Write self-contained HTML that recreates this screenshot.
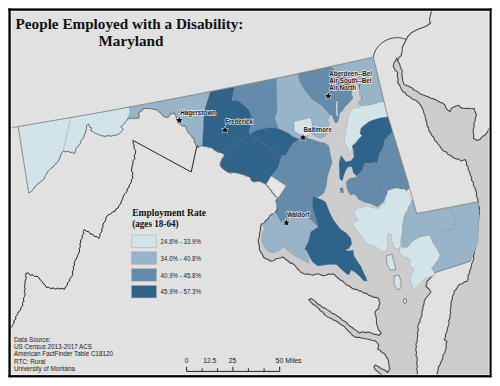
<!DOCTYPE html>
<html><head><meta charset="utf-8"><style>
html,body{margin:0;padding:0;background:#fff;}
svg{display:block;}
</style></head><body>
<svg width="500" height="386" viewBox="0 0 500 386">
<defs><clipPath id="fr"><rect x="10.5" y="10.5" width="479.3" height="364.5"/></clipPath></defs>
<rect width="500" height="386" fill="#fff"/>
<rect x="9" y="9" width="482" height="368" fill="#e1e1e1"/>
<g clip-path="url(#fr)">
<path d="M397.7,60.9 L399.5,63.6 L400.4,67.2 L402.2,70.8 L401.9,74.0 L402.2,77.2 L402.8,80.9 L404.0,84.4 L408.6,86.3 L412.2,88.1 L414.0,90.0 L416.5,90.9 L418.5,92.6 L421.1,94.3 L424.0,95.3 L428.5,97.1 L431.1,98.3 L433.9,98.9 L437.6,100.8 L439.9,102.3 L442.5,103.1 L444.7,104.8 L445.7,107.2 L447.0,109.4 L450.1,111.8 L451.7,107.9 L455.5,106.3 L458.6,105.2 L461.0,107.9 L464.5,108.5 L468.0,108.3 L471.1,108.7 L474.2,108.6 L475.1,111.8 L476.5,114.9 L475.4,117.9 L475.0,121.1 L473.9,123.6 L474.2,126.3 L473.4,128.8 L473.1,131.9 L473.9,135.1 L473.4,138.2 L477.3,140.5 L480.2,139.2 L482.3,136.5 L485.1,135.1 L487.4,132.1 L489.0,128.8 L491.4,126.9 L492.8,124.1 L495.0,122.0 L494.5,124.5 L495.3,127.0 L494.7,129.5 L495.2,132.0 L494.7,134.5 L495.5,137.0 L494.7,139.5 L495.4,142.0 L494.5,144.5 L495.3,147.0 L494.6,149.6 L495.2,152.1 L494.8,154.6 L495.3,157.1 L494.5,159.6 L495.4,162.1 L494.7,164.6 L495.4,167.1 L494.6,169.6 L495.3,172.1 L494.5,174.6 L495.5,177.1 L494.7,179.6 L495.4,182.1 L494.6,184.6 L495.6,187.1 L494.5,189.6 L495.3,192.1 L494.4,194.6 L495.2,197.1 L494.6,199.7 L495.5,202.2 L494.7,204.7 L495.4,207.2 L494.8,209.7 L495.5,212.2 L494.5,214.7 L495.4,217.2 L494.4,219.7 L495.3,222.2 L494.5,224.7 L495.4,227.2 L494.6,229.7 L495.4,232.2 L494.5,234.7 L495.6,237.2 L494.6,239.7 L495.5,242.2 L494.8,244.7 L495.5,247.2 L494.5,249.7 L495.6,252.3 L494.5,254.8 L495.3,257.3 L494.6,259.8 L495.5,262.3 L494.8,264.8 L495.4,267.3 L494.7,269.8 L495.2,272.3 L494.8,274.8 L495.5,277.3 L494.7,279.8 L495.3,282.3 L494.6,284.8 L495.5,287.3 L494.8,289.8 L495.4,292.3 L494.6,294.8 L495.6,297.3 L494.5,299.8 L495.5,302.3 L494.7,304.9 L495.4,307.4 L494.7,309.9 L495.6,312.4 L494.4,314.9 L495.3,317.4 L494.7,319.9 L495.3,322.4 L494.7,324.9 L495.4,327.4 L494.6,329.9 L495.3,332.4 L494.8,334.9 L495.4,337.4 L494.7,339.9 L495.4,342.4 L494.4,344.9 L495.5,347.4 L494.6,349.9 L495.4,352.4 L494.5,355.0 L495.2,357.5 L494.4,360.0 L495.5,362.5 L494.5,365.0 L495.5,367.5 L494.6,370.0 L495.4,372.5 L494.8,375.0 L495.5,377.5 L495.0,380.0 L492.5,379.8 L490.0,380.2 L487.4,379.7 L484.9,380.3 L482.4,379.7 L479.9,380.2 L477.3,379.8 L474.8,380.3 L472.3,379.8 L469.8,380.3 L467.3,379.8 L464.7,380.5 L462.2,379.6 L459.7,380.3 L457.2,379.7 L454.7,380.3 L452.1,379.7 L449.6,380.2 L447.1,379.5 L444.6,380.6 L442.0,379.6 L439.5,380.4 L437.0,380.0 L437.2,377.0 L437.0,374.0 L438.0,370.5 L438.5,366.9 L440.2,364.2 L441.3,361.2 L442.7,358.5 L443.0,355.3 L444.8,352.7 L445.6,349.8 L446.3,347.0 L446.0,344.0 L447.0,341.2 L444.2,339.8 L445.4,337.1 L445.6,334.0 L447.1,331.4 L447.4,328.4 L448.4,325.6 L449.2,323.2 L448.6,320.5 L450.1,318.2 L449.9,315.6 L450.7,312.8 L450.2,309.9 L451.1,307.1 L450.8,304.1 L451.3,301.3 L452.5,299.0 L452.3,296.2 L453.9,294.0 L454.1,291.4 L456.3,289.2 L457.7,286.4 L459.8,284.2 L462.4,283.8 L464.4,281.8 L467.0,281.4 L468.2,278.7 L467.9,275.6 L469.6,273.0 L469.8,270.0 L471.3,267.2 L471.7,263.9 L473.0,261.0 L473.8,258.6 L473.4,255.9 L474.3,253.5 L474.3,251.0 L475.2,248.5 L474.9,246.0 L476.1,243.6 L476.0,241.0 L476.9,238.5 L476.2,235.9 L477.4,233.5 L476.5,230.8 L478.0,228.4 L477.4,225.8 L478.3,223.4 L478.0,220.8 L478.8,218.3 L478.6,215.7 L479.6,213.3 L479.4,210.7 L479.5,207.6 L478.0,204.8 L478.1,201.7 L477.8,198.7 L476.3,196.0 L476.7,192.8 L475.5,190.0 L474.9,187.4 L473.3,185.2 L473.4,182.4 L471.5,180.2 L471.6,177.4 L470.3,175.1 L469.8,172.4 L468.3,170.0 L468.2,167.2 L466.5,164.9 L466.5,162.0 L465.1,159.6 L461.2,160.9 L458.4,159.1 L455.1,158.6 L452.2,157.0 L450.3,155.2 L447.7,154.3 L446.3,151.9 L443.7,151.0 L441.8,149.2 L440.1,146.4 L437.9,144.0 L436.6,141.7 L434.4,140.0 L433.8,137.2 L431.7,135.5 L430.8,132.9 L428.9,131.0 L428.7,128.1 L426.9,125.6 L426.9,122.7 L425.8,120.0 L425.3,116.6 L424.0,113.4 L423.3,110.6 L422.2,108.0 L420.5,105.2 L418.5,102.6 L415.6,100.2 L412.2,98.9 L409.8,96.7 L406.8,95.3 L405.3,92.9 L402.7,91.5 L401.3,89.0 L399.8,85.6 L397.7,82.6 L398.2,79.3 L397.2,76.0 L397.7,72.7 L395.0,69.9 L393.2,66.3 L394.1,62.7 L395.7,60.6 L396.8,58.2Z" fill="#cdcdcd" stroke="#484848" stroke-width="1.1" stroke-linejoin="round"/>
<path d="M397.7,60.9 L398.6,58.2 L401.3,55.4 L402.2,50.0 L402.5,47.0 L405.6,40.7 L407.7,36.6 L411.8,32.4 L418.0,29.3 L426.3,26.2 L430.5,23.0 L429.4,19.4 L433.0,5.0" fill="none" stroke="#484848" stroke-width="1.1" stroke-linejoin="round"/>
<path d="M373.4,57.2 C374.5,46 386,37.5 397.3,37.6 C401,37.7 404,38.5 406.6,39.7" fill="none" stroke="#484848" stroke-width="1.0"/>
<path d="M358.0,80.0 L355.9,81.4 L354.5,83.6 L352.0,84.6 L350.8,87.0 L348.4,88.0 L347.1,90.3 L344.8,91.5 L343.3,93.6 L340.9,94.7 L339.7,97.1 L337.3,98.2 L335.8,100.2 L333.6,101.5 L332.2,103.7 L330.0,105.0 L328.0,106.8 L326.8,109.3 L324.5,110.9 L323.8,113.7 L321.3,115.1 L320.3,117.8 L318.1,119.4 L316.8,121.8 L314.7,123.5 L313.5,126.0 L311.5,127.7 L310.0,130.0 L308.5,132.4 L307.7,135.1 L305.9,137.3 L305.3,140.2 L303.3,142.3 L302.9,145.2 L300.8,147.3 L300.0,150.0 L299.9,152.5 L301.1,154.9 L300.6,157.5 L301.6,160.0 L301.0,162.6 L302.5,164.9 L301.7,167.6 L303.0,169.9 L302.5,172.5 L303.4,175.0 L303.1,177.5 L304.0,180.0 L303.6,182.6 L304.7,185.0 L304.2,187.6 L305.0,190.0 L304.2,192.6 L304.7,195.4 L303.2,197.9 L303.5,200.7 L302.6,203.3 L303.1,206.1 L301.7,208.6 L302.3,211.4 L300.9,213.9 L301.1,216.7 L300.0,219.3 L300.0,222.0 L298.1,220.2 L295.4,219.5 L293.5,217.6 L291.0,216.7 L289.3,214.5 L286.5,214.0 L284.7,212.0 L282.2,211.1 L280.3,209.2 L278.0,208.0 L276.1,211.0 L274.5,214.3 L272.0,214.0 L269.7,215.9 L268.3,218.7 L265.8,220.5 L264.2,223.1 L261.4,224.0 L260.5,227.0 L260.4,230.2 L259.4,233.3 L259.5,236.6 L258.3,239.6 L258.4,242.7 L259.4,245.8 L259.3,248.9 L260.5,251.8 L262.4,254.3 L263.5,257.2 L265.8,258.8 L268.5,259.7 L270.7,261.3 L273.7,260.8 L276.1,258.7 L279.0,258.2 L283.2,257.0 L285.4,259.2 L288.0,261.0 L290.0,262.9 L292.7,263.6 L294.8,265.2 L296.5,267.8 L298.8,270.0 L300.5,272.0 L302.8,273.2 L305.4,274.2 L308.2,274.0 L310.8,274.8 L313.5,275.1 L316.1,274.0 L318.8,274.0 L321.1,275.1 L323.6,275.6 L326.2,275.3 L328.4,274.0 L331.2,274.3 L334.0,274.0 L335.8,276.2 L338.0,278.0 L340.0,279.8 L342.4,281.0 L344.4,282.8 L346.6,284.9 L349.4,286.0 L351.7,288.0 L354.0,289.3 L356.8,289.4 L359.0,290.9 L361.6,291.4 L363.8,293.1 L366.7,293.4 L368.8,295.3 L371.4,296.1 L373.7,297.4 L376.4,297.4 L378.8,298.5 L379.1,301.1 L380.0,303.5 L378.9,305.8 L378.8,308.4 L376.6,309.9 L375.1,312.1 L375.2,314.6 L376.2,317.0 L376.4,319.5 L376.5,323.3 L377.6,326.9 L379.0,330.2 L381.3,333.0 L378.8,335.5 L376.4,334.4 L373.7,334.4 L371.4,333.0 L368.6,332.1 L365.6,332.6 L362.8,331.8 L359.1,333.0 L356.9,330.9 L354.2,329.3 L352.3,327.5 L349.9,326.2 L348.0,324.4 L345.9,321.9 L342.9,320.6 L340.6,318.3 L336.9,315.8 L334.7,314.1 L332.0,313.3 L329.7,311.2 L327.1,309.6 L324.9,307.9 L322.2,307.2 L320.4,305.2 L317.9,304.1 L316.0,302.2 L313.7,300.1 L311.1,298.5 L308.6,299.8 L311.1,302.2 L313.3,304.6 L316.2,306.2 L318.5,308.4 L320.3,310.7 L322.9,312.2 L324.6,314.6 L327.4,316.9 L330.8,318.3 L333.1,319.9 L335.7,320.7 L339.4,323.2 L341.3,325.1 L343.9,326.0 L345.6,328.1 L347.9,330.7 L350.5,333.0 L352.2,335.0 L354.2,336.7 L356.6,337.4 L359.2,337.2 L361.6,338.0 L365.3,338.8 L369.0,339.2 L371.4,340.3 L374.0,340.5 L376.4,341.7 L378.8,345.3 L377.6,349.0 L380.0,350.3 L382.2,352.5 L385.0,354.0 L386.0,356.6 L387.8,358.8 L388.7,361.4 L388.8,365.1 L389.9,368.7 L387.4,372.4 L384.7,370.0 L381.3,368.7 L378.4,366.5 L375.1,365.0 L373.9,367.5 L376.0,370.3 L378.8,372.4 L381.0,374.5 L383.7,376.0 L383.7,380.0 L386.3,380.3 L388.8,379.8 L391.4,380.2 L393.9,379.4 L396.5,380.5 L399.1,379.4 L401.6,380.2 L404.2,379.5 L406.8,380.4 L409.3,379.5 L411.9,380.3 L414.4,379.4 L417.0,380.0 L417.3,377.0 L417.1,374.0 L417.5,371.4 L416.6,368.9 L417.7,366.3 L416.6,363.8 L417.1,361.2 L417.2,358.3 L415.9,355.6 L416.6,352.6 L415.7,349.8 L416.4,347.0 L415.9,344.0 L417.3,341.3 L417.1,338.4 L417.9,335.6 L417.3,332.6 L418.5,329.9 L417.7,326.9 L418.5,324.1 L419.9,321.9 L420.0,319.2 L421.4,317.0 L422.1,314.5 L421.7,311.9 L422.9,309.6 L422.8,307.0 L424.0,304.2 L424.2,301.2 L425.6,298.5 L428.5,295.0 L431.0,292.0 L429.0,289.0 L425.7,286.0 L426.9,283.7 L427.0,281.0 L429.4,279.4 L431.0,277.0 L434.0,274.0 L433.2,271.6 L431.1,269.8 L430.6,267.2 L428.5,265.5 L428.0,262.9 L425.9,261.2 L425.3,258.6 L423.4,256.8 L422.7,254.3 L420.9,252.4 L420.0,250.0 L418.9,247.6 L416.9,245.9 L416.1,243.3 L414.0,241.6 L413.2,239.0 L411.0,237.5 L410.3,234.8 L408.4,233.0 L407.4,230.5 L405.3,228.8 L404.5,226.3 L402.6,224.4 L401.9,221.8 L400.0,220.0 L399.2,217.4 L397.3,215.5 L397.0,212.7 L395.0,210.7 L394.5,208.0 L392.7,206.0 L392.1,203.4 L390.1,201.4 L389.9,198.6 L387.7,196.7 L387.4,194.0 L385.5,192.0 L385.0,189.3 L383.3,187.2 L382.7,184.5 L380.7,182.6 L380.0,180.0 L380.0,177.4 L378.5,175.1 L379.0,172.4 L377.6,170.1 L377.6,167.4 L376.4,165.1 L376.6,162.4 L375.4,160.1 L375.5,157.4 L374.2,155.1 L374.5,152.4 L373.3,150.1 L373.6,147.4 L371.9,145.1 L372.3,142.4 L371.2,140.0 L371.1,137.5 L369.8,135.1 L370.0,132.5 L368.8,130.1 L369.2,127.4 L367.9,125.1 L368.2,122.4 L366.9,120.0 L366.9,117.4 L365.7,115.1 L365.7,112.5 L365.0,110.0Z" fill="#cdcdcd" stroke="#484848" stroke-width="1.1" stroke-linejoin="round"/>
<g stroke="#33475a" stroke-opacity="0.25" stroke-width="0.6" stroke-linejoin="round">
<path d="M18.2,126.6 L70.8,117.7 L63.2,151.2 L61.4,153.2 L60.2,156.7 L57.9,161.4 L54.4,164.9 L50.9,168.4 L47.4,171.9 L45.0,176.5 L42.7,180.0 L38.0,183.5 L34.5,187.0 L32.2,190.5 L28.7,192.9Z" fill="#d3e4e9"/>
<path d="M70.8,117.7 L129.0,107.2 L130.4,112.0 L128.0,117.6 L124.8,122.4 L124.0,124.0 L120.8,126.4 L123.2,129.6 L120.8,132.0 L116.0,135.2 L109.6,136.0 L103.2,136.0 L98.4,134.4 L93.6,132.0 L90.4,130.4 L92.0,128.0 L89.6,127.2 L88.8,124.0 L86.4,125.6 L85.6,131.2 L84.0,135.2 L82.4,139.2 L79.2,144.8 L76.0,148.0 L74.4,153.6 L68.0,151.2 L63.2,151.2Z" fill="#d3e4e9"/>
<path d="M129.0,107.2 L210.5,91.6 L206.9,103.0 L204.2,112.0 L203.3,130.0 L202.4,144.4 L201.8,145.4 L197.0,147.4 L196.1,145.3 L194.3,140.8 L191.6,135.4 L188.0,131.8 L186.2,127.3 L180.8,124.6 L177.2,121.0 L176.3,116.5 L174.5,112.9 L170.0,113.8 L168.2,117.4 L163.7,116.5 L161.0,112.9 L157.4,110.2 L150.2,108.4 L144.8,108.4 L139.4,112.0 L138.5,118.3 L128.0,118.3 L130.4,112.0Z" fill="#98b4c8"/>
<path d="M210.5,91.6 L234.4,86.9 L233.0,94.0 L232.0,101.0 L237.0,100.0 L244.0,105.0 L249.0,110.0 L252.5,118.5 L251.3,124.0 L249.0,131.0 L249.4,133.7 L224.2,154.2 L222.2,153.2 L216.4,151.2 L212.5,148.3 L206.7,146.4 L201.8,145.4 L202.4,144.4 L203.3,130.0 L204.2,112.0 L206.9,103.0Z" fill="#2f638a"/>
<path d="M234.4,86.9 L276.5,78.3 L277.0,112.3 L274.6,118.1 L277.0,124.0 L278.1,128.6 L270.0,127.5 L258.3,129.8 L251.3,133.3 L249.4,133.7 L249.0,131.0 L251.3,124.0 L252.5,118.5 L249.0,110.0 L244.0,105.0 L237.0,100.0 L232.0,101.0 L233.0,94.0Z" fill="#648ba9"/>
<path d="M249.4,133.7 L281.5,156.1 L278.0,168.0 L271.2,176.0 L266.0,184.5 L264.7,183.2 L260.2,181.2 L252.3,181.4 L250.4,177.5 L243.6,174.6 L235.8,172.6 L229.0,172.6 L224.2,169.7 L220.3,165.8 L221.2,161.0 L224.2,156.1 L224.2,154.2Z" fill="#2f638a"/>
<path d="M249.4,133.7 L251.3,133.3 L258.3,129.8 L270.0,127.5 L278.1,128.6 L284.0,131.0 L288.6,133.3 L293.3,136.8 L299.1,139.1 L292.5,143.7 L285.5,155.3 L281.5,156.1Z" fill="#2f638a"/>
<path d="M276.5,78.3 L298.5,73.6 L299.3,80.7 L304.5,89.5 L312.0,99.0 L320.2,104.2 L325.0,109.0 L328.5,112.5 L329.5,116.5 L327.7,121.0 L329.5,123.8 L328.1,128.3 L327.7,132.9 L324.9,136.5 L320.4,138.3 L315.9,136.5 L310.4,132.9 L312.5,127.6 L310.9,117.8 L293.8,121.4 L294.3,130.7 L298.5,133.9 L303.2,135.0 L303.1,136.6 L299.1,139.1 L293.3,136.8 L288.6,133.3 L284.0,131.0 L278.1,128.6 L277.0,124.0 L274.6,118.1 L277.0,112.3Z" fill="#98b4c8"/>
<path d="M293.8,121.4 L310.9,117.8 L312.5,127.6 L311.5,132.8 L309.9,134.4 L306.8,136.0 L303.2,135.0 L298.5,133.9 L294.3,130.7Z" fill="#d3e4e9"/>
<path d="M298.5,73.6 L330.5,66.8 L355.0,84.0 L353.9,85.0 L352.6,88.9 L351.3,94.1 L353.2,98.0 L350.0,101.8 L344.8,107.0 L342.2,110.9 L339.6,113.5 L339.0,118.0 L337.7,122.6 L335.0,122.5 L333.0,118.0 L331.5,114.5 L329.9,115.4 L328.5,112.5 L325.0,109.0 L320.2,104.2 L312.0,99.0 L304.5,89.5 L299.3,80.7Z" fill="#648ba9"/>
<path d="M330.5,66.8 L373.4,57.2 L384.0,101.5 L380.4,102.0 L377.2,102.8 L372.4,104.4 L366.0,105.6 L362.0,106.0 L359.6,104.8 L358.0,103.6 L360.4,99.6 L362.4,96.4 L359.6,95.6 L359.6,90.0 L359.7,85.0 L355.0,84.0Z" fill="#98b4c8"/>
<path d="M359.6,104.8 L362.0,106.0 L366.0,105.6 L372.4,104.4 L377.2,102.8 L380.4,102.0 L384.0,101.5 L386.0,110.0 L388.1,117.0 L379.7,118.0 L370.4,121.1 L364.2,125.2 L361.1,128.3 L360.0,133.5 L362.1,135.6 L359.0,138.7 L355.9,142.8 L352.8,147.0 L351.5,151.0 L349.3,155.5 L347.6,148.0 L344.0,142.0 L345.0,135.0 L346.1,129.0 L347.4,123.9 L348.0,117.4 L350.8,110.0 L354.8,107.6 L360.4,107.2Z" fill="#d3e4e9"/>
<path d="M379.7,118.0 L388.1,117.0 L392.6,131.5 L384.9,139.7 L383.3,147.8 L379.4,153.6 L377.4,162.3 L364.3,163.6 L363.0,169.4 L359.8,172.7 L356.6,175.9 L353.3,172.7 L352.0,166.8 L348.1,166.8 L345.5,170.7 L343.6,175.9 L342.3,181.1 L339.7,178.5 L339.1,163.0 L341.0,155.2 L345.5,161.7 L350.7,161.0 L354.0,157.1 L353.3,150.0 L352.2,145.8 L355.9,142.8 L359.0,138.7 L362.1,135.6 L360.0,133.5 L361.1,128.3 L364.2,125.2 L370.4,121.1Z" fill="#2f638a"/>
<path d="M346.2,182.4 L349.4,178.5 L355.9,177.2 L359.8,172.7 L363.0,169.4 L364.3,163.6 L377.4,162.3 L384.7,177.0 L379.6,186.3 L378.5,192.5 L384.6,199.1 L383.3,202.1 L377.4,207.0 L371.6,204.1 L363.8,202.1 L358.5,199.2 L355.9,195.3 L353.3,194.0 L350.7,195.3 L348.8,192.7 L346.8,187.6Z" fill="#648ba9"/>
<path d="M340.0,188.0 L343.0,187.8 L343.6,192.7 L340.5,192.5Z" fill="#648ba9"/>
<path d="M377.4,162.3 L379.4,153.6 L383.3,147.8 L384.9,139.7 L392.6,131.5 L409.6,188.0 L406.4,190.9 L403.8,188.8 L401.2,189.3 L398.1,188.3 L395.1,188.3 L387.8,190.4 L384.6,199.1 L378.5,192.5 L379.6,186.3 L384.7,177.0Z" fill="#648ba9"/>
<path d="M353.7,212.0 L358.0,208.0 L367.7,206.0 L377.4,208.9 L384.6,203.0 L387.8,190.4 L395.1,188.3 L398.1,188.3 L401.2,189.3 L403.8,188.8 L406.4,190.9 L408.4,192.9 L410.5,196.5 L411.5,200.7 L410.5,204.8 L408.4,206.9 L407.9,210.0 L405.4,213.0 L404.1,217.8 L402.8,225.5 L402.2,233.3 L400.9,241.1 L400.5,247.0 L397.0,248.9 L394.4,247.6 L391.8,241.1 L391.8,234.6 L388.0,233.3 L386.5,238.9 L388.4,242.8 L387.5,247.6 L384.6,251.5 L382.0,251.8 L378.9,248.7 L372.7,245.6 L367.2,244.0 L363.3,239.3 L358.7,233.1 L352.4,224.0 L358.7,219.9 L355.5,215.7Z" fill="#d3e4e9"/>
<path d="M411.5,200.7 L412.9,200.0 L416.7,213.6 L450.9,207.3 L456.0,221.0 L453.5,228.9 L425.0,235.9 L419.0,237.2 L412.6,241.1 L407.4,247.6 L402.2,246.3 L400.9,241.1 L402.2,233.3 L402.8,225.5 L404.1,217.8 L405.4,213.0 L407.9,210.0 L408.4,206.9 L410.5,204.8Z" fill="#98b4c8"/>
<path d="M450.9,207.3 L478.1,201.7 L479.4,210.7 L478.0,241.8 L471.0,261.0 L434.0,273.0 L431.4,268.5 L436.1,262.3 L438.0,260.0 L440.0,255.0 L437.0,249.0 L433.0,243.0 L430.0,235.5 L453.5,228.9 L456.0,221.0Z" fill="#98b4c8"/>
<path d="M407.4,247.6 L412.6,241.1 L419.0,237.2 L425.0,235.9 L430.0,235.5 L433.0,243.0 L437.0,249.0 L440.0,255.0 L438.0,260.0 L436.1,262.3 L431.4,268.5 L435.1,273.1 L434.0,275.2 L430.9,276.8 L426.8,277.3 L420.5,282.5 L415.4,288.2 L412.3,288.2 L411.7,284.0 L410.2,279.9 L410.7,275.2 L413.8,271.6 L414.3,268.5 L411.2,267.4 L409.7,264.3 L410.7,259.7 L408.1,258.1 L404.0,257.3 L400.1,253.4 L399.1,248.0Z" fill="#d3e4e9"/>
<path d="M303.1,136.6 L307.0,138.2 L312.4,139.5 L318.7,141.8 L324.9,143.0 L328.8,146.0 L331.0,157.7 L332.2,162.3 L329.8,169.3 L327.5,176.3 L326.3,185.7 L324.0,192.7 L318.2,197.3 L313.4,196.1 L310.0,195.0 L307.7,175.2 L298.3,162.3 L285.5,155.3 L292.5,143.7 L299.1,139.1Z" fill="#648ba9"/>
<path d="M281.5,156.1 L285.5,155.3 L298.3,162.3 L307.7,175.2 L310.0,195.0 L313.4,196.1 L312.2,204.8 L314.7,214.6 L318.4,226.9 L311.8,220.8 L307.6,217.2 L286.0,217.8 L281.2,222.6 L275.2,211.8 L277.7,209.7 L277.0,203.9 L275.8,200.0 L277.7,198.7 L286.1,185.8 L271.2,176.0 L278.0,168.0Z" fill="#648ba9"/>
<path d="M275.2,211.8 L281.2,222.6 L286.0,217.8 L307.6,217.2 L311.8,220.8 L318.4,227.1 L311.0,231.8 L308.5,241.6 L304.8,249.0 L307.3,251.5 L309.1,263.4 L304.9,261.3 L299.7,258.2 L293.5,255.1 L288.3,251.0 L283.2,246.8 L279.0,251.0 L272.8,253.0 L267.6,251.0 L263.5,245.8 L261.4,239.6 L262.4,233.3 L264.5,229.2 L262.4,224.0 L267.6,220.9 L270.7,218.8 L271.8,215.7Z" fill="#98b4c8"/>
<path d="M313.4,196.1 L318.4,198.6 L322.0,199.8 L325.7,202.3 L329.4,212.1 L333.1,219.5 L340.5,229.3 L346.2,233.1 L350.9,238.6 L351.7,244.0 L348.6,248.7 L345.4,249.4 L347.8,251.0 L353.2,250.2 L354.0,255.7 L357.1,261.1 L361.0,266.5 L363.3,272.0 L365.7,276.7 L367.2,281.3 L363.3,280.5 L360.2,276.7 L354.8,272.0 L351.0,270.0 L349.2,274.8 L346.8,274.0 L341.2,269.2 L336.4,264.4 L328.4,264.4 L318.0,266.0 L313.2,262.8 L309.8,257.6 L307.3,251.5 L304.8,249.0 L308.5,241.6 L311.0,231.8 L318.4,226.9 L314.7,214.6 L312.2,204.8Z" fill="#2f638a"/>
</g>
<path d="M266.0,184.5 L271.2,176.0 L286.1,185.8 L277.7,198.7Z" fill="#e6e6e6" stroke="#888" stroke-width="0.6"/>
<path d="M386.0,256.0 L392.0,254.0 L394.0,262.0 L396.0,270.0 L390.0,270.0 L387.0,264.0Z" fill="#d3e4e9" stroke="#666" stroke-width="0.6"/>
<path d="M394.0,276.0 L399.0,275.0 L401.0,281.0 L401.0,288.0 L397.0,290.0 L394.0,284.0Z" fill="#d3e4e9" stroke="#666" stroke-width="0.6"/>
<ellipse cx="405" cy="301" rx="1.6" ry="2.6" fill="#e1e1e1" stroke="#555" stroke-width="0.7"/>
<path d="M337.3,101 L336.6,108 L337.3,116" fill="none" stroke="#cdcdcd" stroke-width="1.6"/>
<path d="M28.7,192.9 L30.7,192.0 L32.2,190.5 L33.8,189.0 L34.5,187.0 L36.6,185.6 L38.0,183.5 L40.7,182.2 L42.7,180.0 L44.3,178.6 L45.0,176.5 L46.5,174.3 L47.4,171.9 L49.3,170.3 L50.9,168.4 L53.1,167.1 L54.4,164.9 L56.4,163.4 L57.9,161.4 L59.4,159.2 L60.2,156.7 L61.4,153.2 L63.2,151.2 L65.6,151.9 L68.0,151.2 L70.0,152.5 L72.5,152.2 L74.4,153.6 L75.7,150.9 L76.0,148.0 L78.0,146.8 L79.2,144.8 L80.5,143.1 L80.8,140.8 L82.4,139.2 L83.8,137.5 L84.0,135.2 L85.3,133.4 L85.6,131.2 L86.6,128.5 L86.4,125.6 L88.8,124.0 L89.6,127.2 L92.0,128.0 L90.4,130.4 L93.6,132.0 L95.7,133.7 L98.4,134.4 L100.7,135.5 L103.2,136.0 L105.3,136.6 L107.5,135.5 L109.6,136.0 L111.8,136.1 L113.8,135.2 L116.0,135.2 L118.8,134.2 L120.8,132.0 L123.2,129.6 L120.8,126.4 L122.7,125.6 L124.0,124.0 L124.8,122.4 L126.9,120.7 L128.0,118.3 L130.1,119.0 L132.2,117.7 L134.3,119.0 L136.4,117.9 L138.5,118.3 L139.4,116.3 L138.6,114.0 L139.4,112.0 L141.6,111.4 L142.6,109.0 L144.8,108.4 L147.5,108.7 L150.2,108.4 L152.5,109.3 L155.1,109.3 L157.4,110.2 L158.8,112.1 L161.0,112.9 L162.0,115.0 L163.7,116.5 L165.8,117.5 L168.2,117.4 L169.5,115.8 L170.0,113.8 L172.3,113.8 L174.5,112.9 L175.0,114.9 L176.3,116.5 L176.3,118.8 L177.2,121.0 L178.6,123.2 L180.8,124.6 L182.4,126.0 L184.7,125.8 L186.2,127.3 L186.6,129.8 L188.0,131.8 L189.3,134.1 L191.6,135.4 L191.9,137.5 L194.1,138.7 L194.3,140.8 L194.7,143.3 L196.1,145.3 L197.0,147.4 L199.5,146.7 L201.8,145.4 L204.1,146.6 L206.7,146.4 L208.4,147.7 L210.8,147.0 L212.5,148.3 L214.1,150.2 L216.4,151.2 L218.1,152.4 L220.4,152.2 L222.2,153.2 L224.2,154.2 L224.2,156.1 L222.1,158.2 L221.2,161.0 L220.2,163.3 L220.3,165.8 L222.0,168.0 L224.2,169.7 L226.5,171.4 L229.0,172.6 L231.3,173.3 L233.5,171.9 L235.8,172.6 L237.7,173.4 L239.9,173.0 L241.5,174.5 L243.6,174.6 L245.7,175.9 L248.3,176.2 L250.4,177.5 L250.8,179.7 L252.3,181.4 L255.0,182.0 L257.6,181.0 L260.2,181.2 L262.2,182.7 L264.7,183.2 L266.0,184.5 L267.1,186.3 L269.1,187.3 L269.6,189.5 L271.7,190.4 L271.9,192.9 L274.2,193.6 L274.5,196.0 L276.7,196.9 L277.7,198.7 L275.8,200.0 L276.1,202.0 L277.0,203.9 L276.8,206.9 L277.7,209.7 L276.1,211.0 L274.9,212.6" fill="none" stroke="#5a5a5a" stroke-width="0.8" stroke-linejoin="round"/>
<path d="M10,128 Q192,98 373.4,57.2" fill="none" stroke="#8a8a8a" stroke-width="0.9"/>
<path d="M18.2,126.6 L28.7,192.9" fill="none" stroke="#777" stroke-width="0.7"/>
<path d="M373.4,57.2 L386,110 L407.4,180 L416.7,213.6 L478.1,201.7" fill="none" stroke="#888" stroke-width="0.8"/>
<path d="M434,273 L471,261" fill="none" stroke="#777" stroke-width="0.7"/>
<g fill="none" stroke="#222" stroke-width="1.0" stroke-linejoin="round">
<path d="M133.0,140.4 L191.2,172.0 L196.4,148.1 L197.7,145.5"/><path d="M133.0,140.4 L133.1,143.1 L134.2,145.5 L134.0,148.2 L135.7,150.6 L135.5,153.3 L134.2,155.7 L134.9,158.6 L132.9,160.9 L133.0,163.7 L132.1,166.2 L131.7,168.9 L131.5,171.2 L133.1,173.3 L132.1,175.7 L133.0,177.9 L131.4,179.9 L131.3,182.6 L129.6,184.5 L129.0,187.0 L127.4,189.0 L126.9,191.6 L125.2,193.5 L123.4,195.9 L122.6,198.7 L121.4,201.3 L120.6,204.0 L118.9,205.6 L118.2,207.9 L115.9,209.0 L115.1,211.3 L112.4,212.0 L110.5,214.1 L107.9,215.0 L106.1,217.1 L105.8,219.9 L104.3,222.2 L103.0,224.3 L103.0,227.0 L101.7,229.1 L101.8,231.7 L100.0,233.7 L99.9,236.3 L98.8,238.5 L97.1,236.6 L94.3,236.5 L92.8,234.3 L90.1,233.9 L88.7,231.6 L86.1,231.2 L84.3,229.4 L83.4,231.4 L83.8,233.8 L81.9,235.6 L82.6,238.1 L80.6,239.8 L80.7,242.1 L79.9,244.2 L80.4,246.5 L79.3,248.6 L79.6,250.9 L78.9,253.0 L77.4,255.3 L76.9,258.0 L75.3,260.3 L74.2,262.5 L74.5,265.0 L73.1,267.2 L73.6,269.7 L72.3,271.9 L72.8,274.4 L71.6,276.6 L70.0,278.5 L69.6,281.0 L67.6,282.7 L67.3,285.4 L65.4,287.0 L64.4,289.3 L62.2,288.3 L59.8,289.1 L57.7,288.0 L55.3,289.1 L53.1,287.9 L50.8,288.6 L48.6,287.3 L46.3,287.5 L45.3,285.2 L43.2,283.7 L42.1,281.5 L40.2,279.9 L39.0,277.7 L37.1,276.2 L34.6,276.5 L32.9,274.8 L30.3,275.2 L28.7,273.1 L26.3,273.0 L25.6,275.7 L26.2,278.4 L25.0,281.0 L25.2,283.8 L24.4,286.3 L25.2,288.9 L24.2,291.4 L25.3,294.0 L24.5,296.5 L23.4,298.6 L23.9,301.1 L22.4,303.2 L22.7,305.6 L21.1,307.7 L20.4,310.4 L18.2,312.1 L17.3,314.7 L15.7,316.5 L15.9,319.1 L13.9,320.7 L14.1,323.3 L12.3,325.0 L11.8,327.3 L9.8,329.0 L8.7,331.4 L6.5,332.9 L5.0,335.0"/>
</g>
</g>
<g fill="#000"><rect x="8.4" y="8.4" width="483.2" height="2.4"/><rect x="8.4" y="8.4" width="2.4" height="368.8"/><rect x="489.5" y="8.4" width="2.1" height="368.8"/><rect x="8.4" y="375.1" width="483.2" height="2.3"/></g><g fill="#fff" fill-opacity="0.45"><rect x="10.8" y="10.8" width="478.7" height="1.1"/><rect x="10.8" y="10.8" width="1.1" height="364"/><rect x="488.4" y="10.8" width="1.1" height="364"/><rect x="10.8" y="373.9" width="478.7" height="1.2"/></g>
<g font-family="Liberation Serif, serif" font-weight="bold" fill="#111">
<text x="129.5" y="28.7" font-size="15.2" text-anchor="middle">People Employed with a Disability:</text>
<text x="131" y="46" font-size="15.2" text-anchor="middle">Maryland</text>
<text x="132.2" y="215.9" font-size="10.6" textLength="73.9" lengthAdjust="spacingAndGlyphs">Employment Rate</text>
<text x="132.2" y="226.8" font-size="10.6" textLength="46.4" lengthAdjust="spacingAndGlyphs">(ages 18-64)</text>
</g>
<rect x="131.5" y="235.0" width="25" height="12.4" fill="#d3e4e9" stroke="#aaa" stroke-width="0.5"/>
<rect x="131.5" y="251.8" width="25" height="12.4" fill="#98b4c8" stroke="#aaa" stroke-width="0.5"/>
<rect x="131.5" y="268.7" width="25" height="12.4" fill="#648ba9" stroke="#aaa" stroke-width="0.5"/>
<rect x="131.5" y="285.5" width="25" height="12.4" fill="#2f638a" stroke="#aaa" stroke-width="0.5"/>
<g font-family="Liberation Sans, sans-serif" font-size="6.3" fill="#222">
<text x="160.6" y="243.8" textLength="40.3" lengthAdjust="spacingAndGlyphs">24.6% - 33.9%</text>
<text x="160.6" y="260.6" textLength="40.3" lengthAdjust="spacingAndGlyphs">34.0% - 40.8%</text>
<text x="160.6" y="277.5" textLength="40.3" lengthAdjust="spacingAndGlyphs">40.9% - 45.8%</text>
<text x="160.6" y="294.3" textLength="40.3" lengthAdjust="spacingAndGlyphs">45.9% - 57.3%</text>
</g>
<g font-family="Liberation Sans, sans-serif" font-size="6.3" fill="#222">
<text x="14" y="341.8">Data Source:</text>
<text x="14" y="349.1">US Census 2013-2017 ACS</text>
<text x="14" y="356.4">American FactFinder Table C18120</text>
<text x="14" y="363.7">RTC: Rural</text>
<text x="14" y="371.0">University of Montana</text>
</g>
<g font-family="Liberation Sans, sans-serif" font-size="6.8" fill="#222" text-anchor="middle">
<text x="186.6" y="363.1">0</text><text x="209.8" y="363.1">12.5</text><text x="232.6" y="363.1">25</text>
<text x="275.6" y="363.1" text-anchor="start" textLength="26" lengthAdjust="spacingAndGlyphs">50 Miles</text>
</g>
<g stroke="#222" stroke-width="1" fill="none">
<path d="M186.6,366.8 V371.4 H279.7 V366.8"/>
<path d="M232.9,366.8 V371.4 M202.2,368.3 V371.4 M217.6,368.3 V371.4 M248.4,368.3 V371.4 M264.1,368.3 V371.4"/>
</g>
<g fill="#111" stroke="#fff" stroke-width="1.0" stroke-opacity="0.9" paint-order="stroke" stroke-linejoin="round">
<path d="M179.3,116.7 L180.2,119.1 L182.8,119.3 L180.8,120.9 L181.5,123.4 L179.3,122.0 L177.1,123.4 L177.8,120.9 L175.8,119.3 L178.4,119.1Z"/>
<path d="M225.0,126.3 L225.9,128.7 L228.5,128.9 L226.5,130.5 L227.2,133.0 L225.0,131.6 L222.8,133.0 L223.5,130.5 L221.5,128.9 L224.1,128.7Z"/>
<path d="M328.4,92.3 L329.3,94.7 L331.9,94.9 L329.9,96.5 L330.6,99.0 L328.4,97.6 L326.2,99.0 L326.9,96.5 L324.9,94.9 L327.5,94.7Z"/>
<path d="M303.0,133.9 L303.9,136.3 L306.5,136.5 L304.5,138.1 L305.2,140.6 L303.0,139.2 L300.8,140.6 L301.5,138.1 L299.5,136.5 L302.1,136.3Z"/>
<path d="M286.4,219.1 L287.3,221.5 L289.9,221.7 L287.9,223.3 L288.6,225.8 L286.4,224.4 L284.2,225.8 L284.9,223.3 L282.9,221.7 L285.5,221.5Z"/>
</g>
<g font-family="Liberation Sans, sans-serif" font-size="6.3" font-weight="bold" fill="#161616" stroke="#fff" stroke-width="1.4" stroke-opacity="0.85" paint-order="stroke" stroke-linejoin="round">
<text x="180.2" y="115.0" textLength="35.6" lengthAdjust="spacingAndGlyphs">Hagerstown</text>
<text x="225.2" y="124.0" textLength="27.8" lengthAdjust="spacingAndGlyphs">Frederick</text>
<text x="329.3" y="75.8" textLength="42.8" lengthAdjust="spacingAndGlyphs">Aberdeen--Bel</text>
<text x="329.3" y="82.7" textLength="42.3" lengthAdjust="spacingAndGlyphs">Air South--Bel</text>
<text x="329.3" y="89.6" textLength="26.8" lengthAdjust="spacingAndGlyphs">Air North</text>
<text x="303.6" y="132.4" textLength="28.2" lengthAdjust="spacingAndGlyphs">Baltimore</text>
<text x="286.9" y="217.2" textLength="22.4" lengthAdjust="spacingAndGlyphs">Waldorf</text>
</g>
</svg>
</body></html>
